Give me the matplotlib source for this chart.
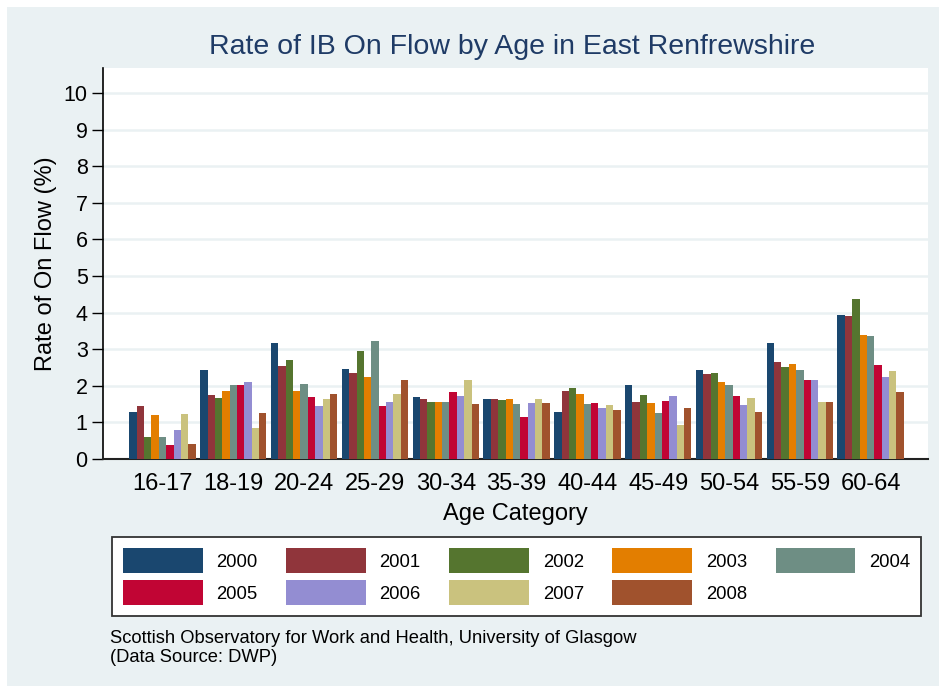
import numpy as np
import matplotlib.pyplot as plt
from matplotlib.patches import Rectangle

plt.rcParams['font.family'] = ['Liberation Sans', 'DejaVu Sans']

# age groups and years
ages = ['16-17', '18-19', '20-24', '25-29', '30-34', '35-39',
        '40-44', '45-49', '50-54', '55-59', '60-64']
years = ['2000', '2001', '2002', '2003', '2004', '2005', '2006', '2007', '2008']

# rate of on flow (%) per year, one value per age group
r2000 = [1.29, 2.44, 3.18, 2.46, 1.68, 1.65, 1.29, 2.03, 2.44, 3.17, 3.93]
r2001 = [1.45, 1.75, 2.54, 2.36, 1.64, 1.65, 1.85, 1.55, 2.33, 2.64, 3.90]
r2002 = [0.60, 1.66, 2.70, 2.95, 1.55, 1.61, 1.94, 1.75, 2.35, 2.50, 4.36]
r2003 = [1.20, 1.85, 1.87, 2.25, 1.57, 1.65, 1.78, 1.53, 2.09, 2.59, 3.38]
r2004 = [0.60, 2.01, 2.05, 3.23, 1.56, 1.49, 1.49, 1.25, 2.01, 2.42, 3.35]
r2005 = [0.38, 2.03, 1.68, 1.46, 1.83, 1.14, 1.52, 1.59, 1.71, 2.17, 2.56]
r2006 = [0.78, 2.09, 1.46, 1.57, 1.73, 1.52, 1.39, 1.72, 1.47, 2.16, 2.25]
r2007 = [1.22, 0.86, 1.64, 1.78, 2.15, 1.63, 1.48, 0.92, 1.66, 1.55, 2.40]
r2008 = [0.40, 1.27, 1.77, 2.15, 1.49, 1.53, 1.33, 1.39, 1.29, 1.56, 1.83]
rates = [r2000, r2001, r2002, r2003, r2004, r2005, r2006, r2007, r2008]

colors = ['#1A476F', '#90353B', '#55752F', '#E37E00', '#6E8E84',
          '#C10534', '#938DD2', '#CAC27E', '#A0522D']
bg = '#EAF1F3'

fig = plt.figure(figsize=(9.39, 6.86), dpi=100, facecolor='white')
fig.patches.append(Rectangle((7/939, 0), 1, 1 - 7/686, transform=fig.transFigure,
                             facecolor=bg, edgecolor='none', zorder=-5))

ax = fig.add_axes([103/939, 1 - 459/686, (928 - 103)/939, (459 - 68)/686])
ax.set_facecolor('white')

xpos = np.arange(len(ages))
w = 0.104
handles = []
for j, (yr, vals) in enumerate(zip(years, rates)):
    b = ax.bar(xpos + (j - 4) * w, vals, width=w, color=colors[j], label=yr,
               linewidth=0, zorder=3)
    handles.append(b)

ax.set_xlim(-0.84, 10.81)
ax.set_ylim(0, 10.68)
ax.set_yticks(range(0, 11))
ax.tick_params(axis='y', labelsize=15.5, length=8, width=1, pad=3, direction='out')
ax.set_xticks(xpos)
ax.set_xticklabels(ages)
ax.tick_params(axis='x', labelsize=17, length=0, pad=10)
for y in range(1, 11):
    ax.axhline(y, color=bg, linewidth=1.8, zorder=1)

for s in ['top', 'right']:
    ax.spines[s].set_visible(False)
ax.spines['left'].set_linewidth(1.2)
ax.spines['bottom'].set_linewidth(1.5)
ax.spines['bottom'].set_color('#222222')

ax.set_ylabel('Rate of On Flow (%)', fontsize=17, labelpad=5)
ax.set_xlabel('Age Category', fontsize=17, labelpad=6)

fig.text(512/939, 1 - 47/686, 'Rate of IB On Flow by Age in East Renfrewshire',
         ha='center', va='center', fontsize=20.5, color='#1F3B66')

# legend fills column by column, so reorder to read row by row
order = [0, 5, 1, 6, 2, 7, 3, 8, 4]
leg = fig.legend([handles[k] for k in order], [years[k] for k in order],
                 loc='upper left', bbox_to_anchor=(112/939, 1 - 537/686),
                 ncol=5, fontsize=13.3, frameon=True, fancybox=False,
                 handlelength=4.3, handleheight=1.7, handletextpad=0.75,
                 columnspacing=1.55, labelspacing=0.4, borderpad=0.6,
                 borderaxespad=0, framealpha=1)
leg.get_frame().set_edgecolor('#333333')
leg.get_frame().set_linewidth(1.3)

fig.text(110/939, 1 - 648/686,
         'Scottish Observatory for Work and Health, University of Glasgow\n(Data Source: DWP)',
         ha='left', va='center', fontsize=13.2, linespacing=1.1)

fig.savefig('out.png', dpi=100, facecolor='white')
